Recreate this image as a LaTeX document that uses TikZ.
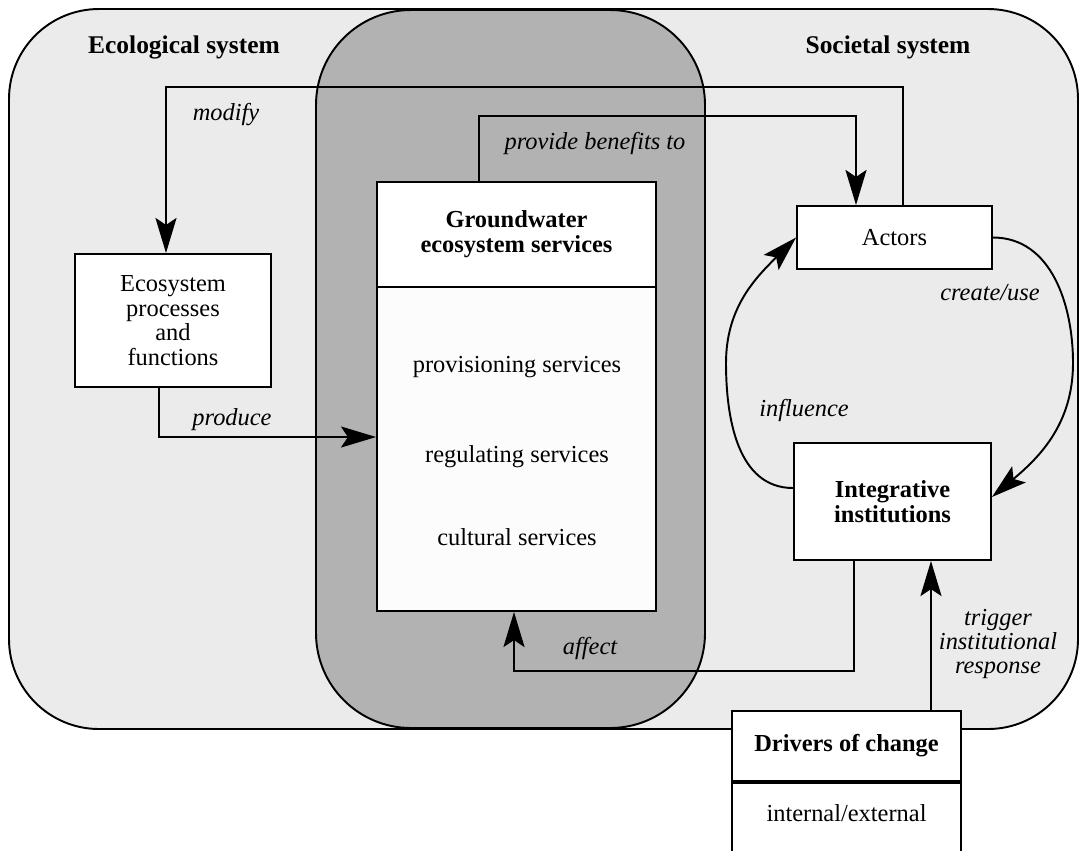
\documentclass[tikz,border=0pt]{standalone}
\usepackage{fontspec}
\setmainfont{Liberation Serif}
\usetikzlibrary{arrows.meta}
\begin{document}
\begin{tikzpicture}[x=0.02cm, y=-0.02cm,
    every node/.style={font=\fontsize{13.9}{13.9}\selectfont, align=center},
    system/.style={draw, line width=1.1pt, fill=black!8, rounded corners=1.8cm},
    core/.style={draw, line width=1.1pt, fill=black!30, rounded corners=1.9cm},
    box/.style={draw, line width=1.1pt, fill=white, inner sep=0pt},
    title/.style={font=\fontsize{14.5}{14.5}\selectfont\bfseries},
    heading/.style={font=\fontsize{13.9}{14.2}\selectfont\bfseries},
    verb/.style={font=\fontsize{13.9}{13.9}\selectfont\itshape},
    flow/.style={line width=1.1pt, -{Stealth[length=20pt, width=12pt, inset=4pt]}},
  ]
  \clip (0,0) rectangle (1081,850);
  % the two systems
  \draw[system] (9,9) rectangle (1078,729);
  \draw[core] (316,10) rectangle (705,728);
  \node[title] (eco lbl) at (184,47) {Ecological system};
  \node[title] (soc lbl) at (888,47) {Societal system};

  % boxes
  \node[box, minimum width=3.92cm, minimum height=2.66cm] (eco) at (173,320.5)
    {Ecosystem\\processes\\and\\functions};
  \node[box, heading, minimum width=5.58cm, minimum height=2.1cm] (gwhead) at (516.5,234.5)
    {Groundwater\\ecosystem services};
  \node[box, fill=black!1, minimum width=5.58cm, minimum height=6.48cm] (gwbody) at (516.5,449) {};
  \node (prov) at (517,367) {provisioning services};
  \node (regu) at (517,457) {regulating services};
  \node (cult) at (517,537) {cultural services};
  \node[box, minimum width=3.9cm, minimum height=1.26cm] (actors) at (894.5,237.5) {Actors};
  \node[box, heading, minimum width=3.94cm, minimum height=2.34cm] (integ) at (892.5,501.5)
    {Integrative\\institutions};
  \node[box, heading, minimum width=4.58cm, minimum height=1.4cm] (drvhead) at (846.5,746)
    {Drivers of change};
  \node[box, anchor=north, minimum width=4.58cm, minimum height=1.8cm, text depth=0.6cm] (drvbody)
    at (drvhead.south) {internal/external};

  % connectors
  \coordinate (modtop) at (903,87);
  \coordinate (bentop) at (856,116);
  \coordinate (affbot) at (514,671);
  \coordinate (cuse) at (1073,363);
  \coordinate (infl) at (726,363);
  \draw[flow] (actors.north -| modtop) -- (modtop) -| ([xshift=-0.14cm]eco.north);
  \draw[flow] ([xshift=-0.75cm]gwhead.north) |- (bentop) -- (bentop |- actors.north);
  \draw[flow] ([xshift=-0.28cm]eco.south) |- ([yshift=0.24cm]gwbody.west);
  \draw[flow] ([xshift=-0.77cm]integ.south) |- (affbot) -- (affbot |- gwbody.south);
  \draw[flow] ([xshift=1.69cm]drvhead.north) -- ([xshift=1.69cm]drvhead.north |- integ.south);
  \draw[flow] (actors.east) to[out=0, in=90] (cuse) to[out=-90, in=40] ([yshift=0.09cm]integ.east);
  \draw[flow] ([yshift=0.27cm]integ.west) to[out=180, in=-90] (infl) to[out=90, in=225] (actors.west);

  % labels
  \node[verb] (l mod) at (226,115) {modify};
  \node[verb] (l ben) at (595,143) {provide benefits to};
  \node[verb] (l pro) at (232,420) {produce};
  \node[verb] (l cre) at (990,293) {create/use};
  \node[verb] (l inf) at (804,410) {influence};
  \node[verb] (l aff) at (590,648) {affect};
  \node[verb] (l trg) at (998,644) {trigger\\institutional\\response};
\end{tikzpicture}
\end{document}
